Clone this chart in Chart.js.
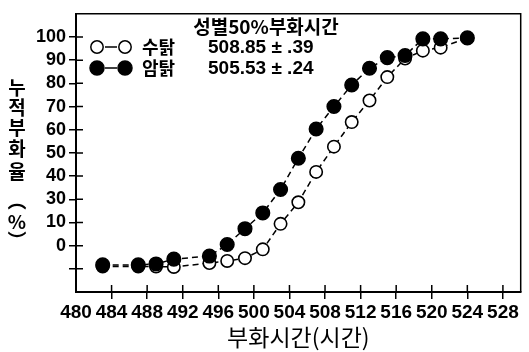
<!DOCTYPE html>
<html>
<head>
<meta charset="utf-8">
<script src="https://cdn.jsdelivr.net/npm/chart.js@4"></script>
<style>
  html, body { margin: 0; padding: 0; background: #fff; }
  canvas { display: block; }
</style>
</head>
<body>
<canvas id="hatchChart" width="529" height="352"></canvas>
<script>
// hatching hour and cumulative hatch rate (%)
const hours = [483, 487, 489, 491, 495, 497, 499, 501, 503, 505, 507, 509, 511, 513, 515, 517, 519, 521, 524];
const roosterPct = [1.0, 1.0, 1.0, 0.8, 2.5, 3.4, 4.6, 8.4, 19.4, 28.7, 41.8, 52.7, 63.3, 72.6, 82.7, 90.7, 94.1, 95.4, 99.6]; // 수탉
const henPct = [1.7, 1.7, 2.1, 4.2, 5.5, 10.5, 17.3, 24.1, 34.2, 47.7, 60.3, 70.0, 79.3, 86.5, 91.1, 92.0, 99.2, 99.2, 99.6];   // 암탉

const xTicks = [480, 484, 488, 492, 496, 500, 504, 508, 512, 516, 520, 524, 528];
const yTickValues = [0, 10, 20, 30, 40, 50, 60, 70, 80, 90, 100];
const yTickLabels = ["", "0", "10", "30", "40", "50", "60", "70", "80", "90", "100"];

const seriesNames = ["수탉", "암탉"];
const legendTitle = "성별50%부화시간";
const hatch50 = ["508.85 ± .39", "505.53 ± .24"];
const xTitle = "부화시간(시간)";
const yTitleChars = ["누", "적", "부", "화", "율", "︵", "%", "︶"];

const KR = "'Noto Sans CJK KR', 'Noto Sans', sans-serif";
const NUM = "'Liberation Sans', Arial, sans-serif";

function circle(ctx, x, y, r, filled) {
    ctx.beginPath();
    ctx.arc(x, y, r, 0, Math.PI * 2);
    ctx.fillStyle = filled ? "#000" : "#fff";
    ctx.fill();
    ctx.stroke();
}

const decorations = {
    id: "decorations",
    afterDraw(chart) {
        const ctx = chart.ctx;
        const area = chart.chartArea;
        const xs = chart.scales.x;
        const ys = chart.scales.y;
        ctx.save();
        ctx.strokeStyle = "#000";
        ctx.lineWidth = 1.5;

        // top and right side of the frame
        ctx.beginPath();
        ctx.moveTo(area.left, area.top);
        ctx.lineTo(area.right, area.top);
        ctx.lineTo(area.right, area.bottom);
        ctx.stroke();

        // inner half of the cross ticks
        ctx.beginPath();
        yTickValues.forEach((v) => {
            const y = ys.getPixelForValue(v);
            ctx.moveTo(area.left, y);
            ctx.lineTo(area.left + 7, y);
        });
        xTicks.slice(1).forEach((v) => {
            const x = xs.getPixelForValue(v);
            ctx.moveTo(x, area.bottom);
            ctx.lineTo(x, area.bottom - 7);
        });
        ctx.stroke();

        // vertical y title
        ctx.fillStyle = "#000";
        ctx.textAlign = "center";
        ctx.textBaseline = "middle";
        ctx.font = "bold 19px " + KR;
        const ty = [88, 108, 128, 149, 172, 201, 222, 241];
        yTitleChars.forEach((c, i) => ctx.fillText(c, 17, ty[i]));

        // legend block
        ctx.lineWidth = 1.5;
        [47, 68].forEach((y, i) => {
            const filled = i === 1;
            ctx.beginPath();
            ctx.moveTo(105, y);
            ctx.lineTo(117, y);
            ctx.stroke();
            circle(ctx, 97, y, filled ? 7 : 6.2, filled);
            circle(ctx, 125, y, filled ? 7 : 6.2, filled);
            ctx.fillStyle = "#000";
            ctx.textAlign = "left";
            ctx.font = "bold 18px " + KR;
            ctx.fillText(seriesNames[i], 142, y);
            ctx.font = "bold 19px " + NUM;
            ctx.fillText(hatch50[i], 208, y + 1);
        });
        ctx.textAlign = "center";
        ctx.font = "bold 19px " + KR;
        ctx.fillText(legendTitle, 266, 27);
        ctx.restore();
    },
};

const ctx = document.getElementById("hatchChart");
new Chart(ctx, {
    type: "line",
    data: {
        datasets: [
            {
                label: seriesNames[1],
                data: hours.map((h, i) => ({ x: h, y: henPct[i] })),
                borderColor: "#000",
                backgroundColor: "#000",
                borderWidth: 1.5,
                borderDash: [6, 4],
                pointRadius: 6.8,
                pointBorderWidth: 1.5,
                pointBackgroundColor: "#000",
                pointBorderColor: "#000",
                order: 0,
            },
            {
                label: seriesNames[0],
                data: hours.map((h, i) => ({ x: h, y: roosterPct[i] })),
                borderColor: "#000",
                backgroundColor: "#fff",
                borderWidth: 1.5,
                borderDash: [6, 4],
                pointRadius: 6.2,
                pointBorderWidth: 1.6,
                pointBackgroundColor: "#fff",
                pointBorderColor: "#000",
                order: 1,
            },
        ],
    },
    options: {
        responsive: false,
        animation: false,
        layout: { padding: { top: 7, right: 6, left: 0, bottom: 0 } },
        plugins: {
            legend: { display: false },
            tooltip: { enabled: false },
        },
        scales: {
            x: {
                type: "linear",
                min: 480,
                max: 530,
                afterBuildTicks: (scale) => {
                    scale.ticks = xTicks.map((v) => ({ value: v }));
                },
                afterFit: (scale) => {
                    scale.height = 60;
                },
                ticks: {
                    autoSkip: false,
                    maxRotation: 0,
                    padding: 2,
                    color: "#000",
                    font: { family: NUM, size: 19, weight: "bold" },
                },
                grid: {
                    drawOnChartArea: false,
                    tickLength: 7,
                    lineWidth: 1.5,
                    color: (c) => (c.tick && c.tick.value === 480 ? "rgba(0,0,0,0)" : "#000"),
                },
                border: { color: "#000", width: 2 },
                title: {
                    display: true,
                    text: xTitle,
                    color: "#000",
                    font: { family: KR, size: 23 },
                    padding: { top: 0, bottom: 1 },
                },
            },
            y: {
                type: "linear",
                min: -10,
                max: 110,
                afterBuildTicks: (scale) => {
                    scale.ticks = yTickValues.map((v) => ({ value: v }));
                },
                afterFit: (scale) => {
                    scale.width = 76;
                },
                ticks: {
                    padding: 3,
                    color: "#000",
                    font: { family: NUM, size: 18, weight: "bold" },
                    callback: (value) => yTickLabels[yTickValues.indexOf(value)],
                },
                grid: {
                    drawOnChartArea: false,
                    tickLength: 7,
                    lineWidth: 1.5,
                    color: "#000",
                },
                border: { color: "#000", width: 2 },
            },
        },
    },
    plugins: [decorations],
});
</script>
</body>
</html>
